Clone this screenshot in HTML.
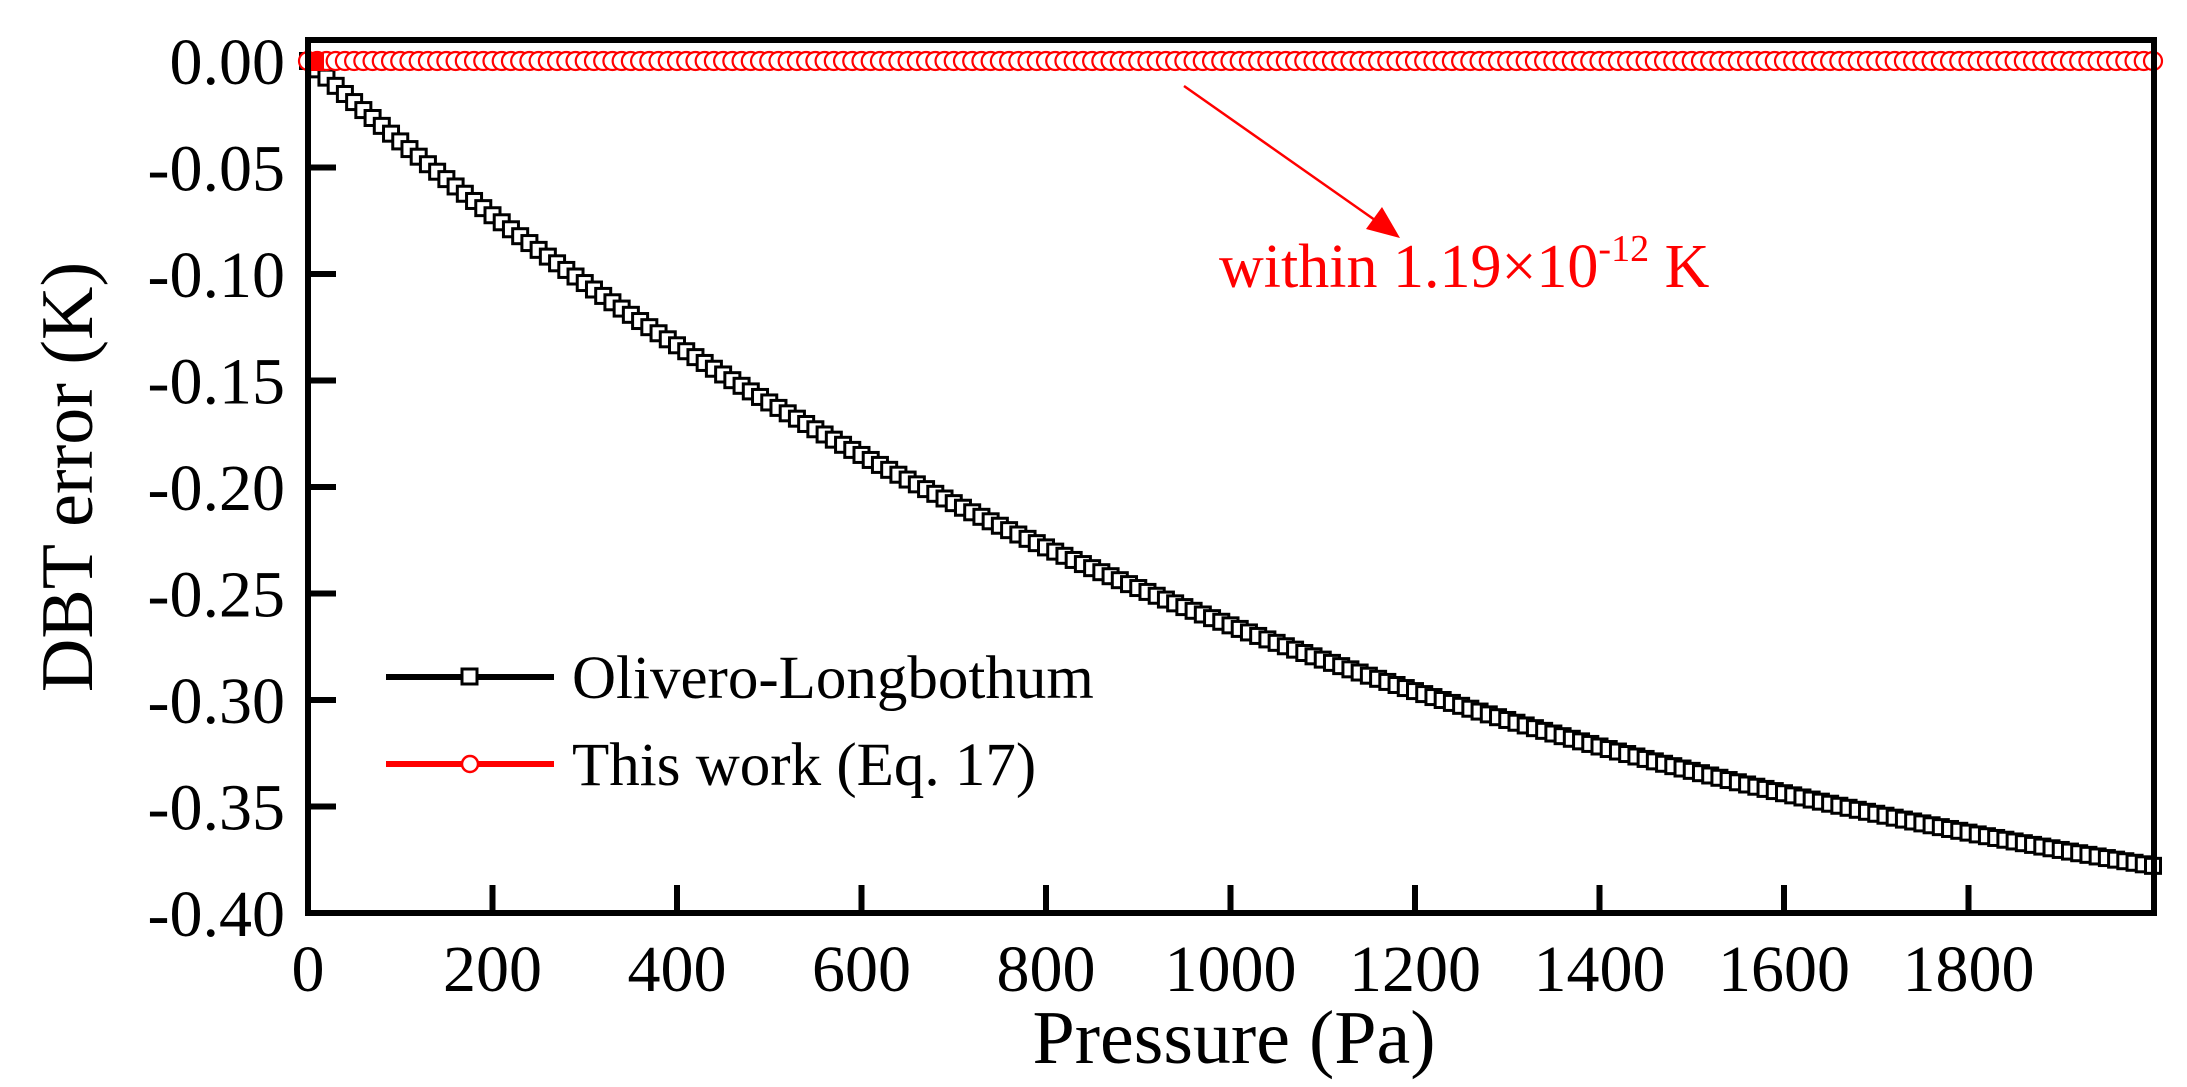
<!DOCTYPE html>
<html><head><meta charset="utf-8"><style>
html,body{margin:0;padding:0;background:#fff;}
svg{display:block;font-family:"Liberation Serif",serif;}
</style></head><body>
<svg id="s" width="2187" height="1087" viewBox="0 0 2187 1087" xmlns="http://www.w3.org/2000/svg">
<g id="data"></g>
<rect x="308" y="40" width="1846" height="873" fill="none" stroke="#000" stroke-width="6"/>
<g id="ticks" stroke="#000" stroke-width="6"></g>
<g id="labels" font-size="66" fill="#000"></g>
<text x="1234" y="1063" font-size="76" text-anchor="middle">Pressure (Pa)</text>
<text transform="translate(92,477) rotate(-90)" font-size="74" text-anchor="middle">DBT error (K)</text>
<line x1="386" y1="677" x2="554" y2="677" stroke="#000" stroke-width="6"/>
<rect x="462" y="669" width="15" height="15" fill="#fff" stroke="#000" stroke-width="3"/>
<text x="572" y="698" font-size="61">Olivero-Longbothum</text>
<line x1="386" y1="764" x2="554" y2="764" stroke="red" stroke-width="6"/>
<circle cx="470" cy="764" r="8" fill="#fff" stroke="red" stroke-width="2.5"/>
<text x="572" y="785" font-size="61">This work (Eq. 17)</text>
<line x1="1184" y1="86" x2="1382" y2="225" stroke="red" stroke-width="2.5"/>
<polygon points="1400,238 1366,229 1382,207" fill="red"/>
<text x="1219" y="287" font-size="62" fill="red">within 1.19×10<tspan font-size="38" dy="-26">-12</tspan><tspan dy="26"> K</tspan></text>
</svg>
<script>
var NS="http://www.w3.org/2000/svg";
function px(p){return 308+p*0.9225;}
function py(v){return 61-v*2130;}
function f(p){return -0.4617*(1-Math.exp(-0.000853*p));}
var g=document.getElementById('data');
function el(t,a){var e=document.createElementNS(NS,t);for(var k in a)e.setAttribute(k,a[k]);return e;}
var pts=[];for(var p=0;p<=2000;p+=10)pts.push(px(p).toFixed(1)+","+py(f(p)).toFixed(1));
g.appendChild(el('polyline',{points:pts.join(' '),fill:'none',stroke:'#000','stroke-width':3}));
for(var p=0;p<=2000;p+=10){g.appendChild(el('rect',{x:px(p)-7.5,y:py(f(p))-7.5,width:15,height:15,fill:'#fff',stroke:'#000','stroke-width':3}));}
g.appendChild(el('line',{x1:308,y1:61,x2:2154,y2:61,stroke:'red','stroke-width':3}));
for(var p=0;p<=2000;p+=10){g.appendChild(el('circle',{cx:px(p),cy:61,r:9,fill:'#fff',stroke:'red','stroke-width':2.2}));}
g.appendChild(el('rect',{x:308,y:52,width:16,height:19,fill:'red'}));
var t=document.getElementById('ticks'),l=document.getElementById('labels');
for(var i=0;i<=8;i++){var y=py(-0.05*i);
 if(i>0)t.appendChild(el('line',{x1:308,y1:y,x2:336,y2:y}));
 var tx=el('text',{x:285,y:y+23,'text-anchor':'end'});tx.textContent=(i==0?"0.00":"-"+(0.05*i).toFixed(2));l.appendChild(tx);}
for(var p=0;p<=2000;p+=200){var x=px(p);
 if(p>0&&p<2000)t.appendChild(el('line',{x1:x,y1:913,x2:x,y2:885}));
 if(p<2000){var tx=el('text',{x:x,y:991,'text-anchor':'middle'});tx.textContent=p;l.appendChild(tx);}}
</script>
</body></html>
